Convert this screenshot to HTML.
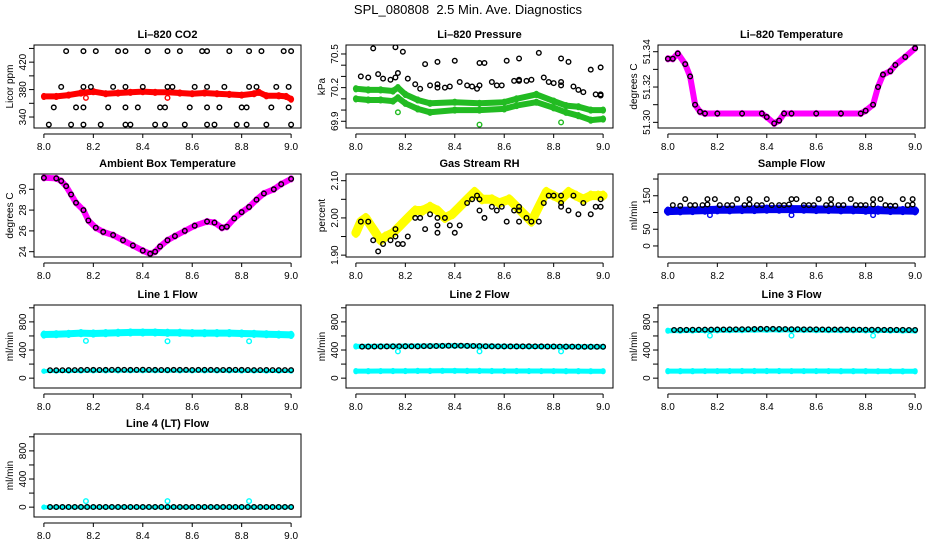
<!DOCTYPE html>
<html><head><meta charset="utf-8"><style>
html,body{margin:0;padding:0;background:#fff}
svg{display:block;font-family:"Liberation Sans",sans-serif}
</style></head><body>
<svg id="chart" width="936" height="540" viewBox="0 0 936 540" xmlns="http://www.w3.org/2000/svg">
<rect width="936" height="540" fill="#fff"/>
<text x="468" y="14" font-size="13" text-anchor="middle">SPL_080808&#160; 2.5 Min. Ave. Diagnostics</text>
</svg>
<script>
const xTicks=[8.0,8.2,8.4,8.6,8.8,9.0];
const xTickLabels=["8.0","8.2","8.4","8.6","8.8","9.0"];
const t21=[8.0,8.05,8.1,8.15,8.2,8.25,8.3,8.35,8.4,8.45,8.5,8.55,8.6,8.65,8.7,8.75,8.8,8.85,8.9,8.95,9.0];
const t40=[8.025,8.05,8.075,8.1,8.125,8.15,8.175,8.2,8.225,8.25,8.275,8.3,8.325,8.35,8.375,8.4,8.425,8.45,8.475,8.5,8.525,8.55,8.575,8.6,8.625,8.65,8.675,8.7,8.725,8.75,8.775,8.8,8.825,8.85,8.875,8.9,8.925,8.95,8.975,9.0];

// CO2
const co2X=[8.0,8.05,8.1,8.15,8.2,8.25,8.3,8.35,8.4,8.45,8.5,8.55,8.6,8.65,8.7,8.75,8.8,8.85,8.87,8.9,8.95,8.98,9.0];
const co2Y=[370,370,372,375,377,374,375,376,377,376,376,375,374,375,374,373,372,374,376,371,371,370,366];
const co2BlkX=[8.09,8.16,8.21,8.30,8.33,8.42,8.50,8.55,8.64,8.66,8.75,8.83,8.88,8.97,9.0,8.07,8.16,8.19,8.28,8.33,8.40,8.50,8.52,8.61,8.66,8.73,8.83,8.86,8.94,8.99,8.04,8.13,8.16,8.26,8.33,8.38,8.47,8.49,8.59,8.66,8.71,8.80,8.82,8.92,8.99,8.02,8.11,8.16,8.23,8.33,8.35,8.45,8.49,8.57,8.66,8.69,8.78,8.82,8.90,9.0];
const co2BlkY=[436,436,436,436,436,436,436,436,436,436,436,436,436,436,436,384,384,384,384,384,384,384,384,384,384,384,384,384,384,384,354,354,354,354,354,354,354,354,354,354,354,354,354,354,354,329,329,329,329,329,329,329,329,329,329,329,329,329,329,329];
const co2OutX=[8.17,8.50];
const co2OutY=[368,368];

// Pressure
const prX=[8.0,8.05,8.1,8.15,8.17,8.2,8.25,8.3,8.4,8.5,8.6,8.65,8.73,8.8,8.85,8.9,8.95,9.0];
const prHi=[70.19,70.18,70.18,70.17,70.20,70.14,70.09,70.06,70.07,70.06,70.07,70.10,70.14,70.08,70.04,70.03,70.00,70.00];
const prLo=[70.10,70.09,70.09,70.08,70.11,70.06,70.01,69.98,70.00,70.00,70.01,70.04,70.07,70.02,69.98,69.95,69.91,69.92];
const prBlkX=[8.07,8.16,8.19,8.28,8.33,8.40,8.50,8.52,8.61,8.66,8.74,8.83,8.86,8.95,8.99,8.02,8.05,8.09,8.11,8.14,8.16,8.17,8.21,8.24,8.26,8.30,8.33,8.33,8.36,8.38,8.42,8.45,8.47,8.49,8.50,8.55,8.57,8.59,8.64,8.66,8.66,8.69,8.71,8.76,8.78,8.80,8.83,8.83,8.88,8.90,8.92,8.97,8.99,8.99];
const prBlkY=[70.55,70.56,70.52,70.41,70.43,70.44,70.42,70.42,70.44,70.46,70.51,70.46,70.43,70.36,70.38,70.30,70.29,70.32,70.28,70.27,70.29,70.33,70.28,70.23,70.19,70.22,70.23,70.20,70.20,70.21,70.25,70.22,70.21,70.19,70.22,70.25,70.22,70.22,70.26,70.27,70.26,70.26,70.27,70.29,70.25,70.24,70.25,70.22,70.21,70.18,70.16,70.14,70.14,70.13];
const prOutX=[8.17,8.50,8.83];
const prOutY=[69.98,69.87,69.89];

// Li-820 temperature
const tpX=[8.0,8.02,8.04,8.07,8.09,8.11,8.13,8.15,8.2,8.3,8.38,8.40,8.43,8.45,8.47,8.5,8.6,8.7,8.78,8.80,8.83,8.85,8.87,8.90,8.92,8.96,9.0];
const tpY=[51.336,51.336,51.339,51.333,51.326,51.310,51.306,51.305,51.305,51.305,51.305,51.303,51.2994,51.301,51.305,51.305,51.305,51.305,51.305,51.3066,51.310,51.320,51.327,51.329,51.3325,51.337,51.342];

// Ambient box temperature
const abX=[8.0,8.05,8.07,8.09,8.11,8.13,8.16,8.18,8.21,8.24,8.28,8.32,8.36,8.40,8.43,8.45,8.47,8.50,8.53,8.57,8.61,8.66,8.69,8.72,8.74,8.77,8.80,8.83,8.86,8.89,8.93,8.96,9.0];
const abY=[31.1,31.05,30.8,30.3,29.5,28.7,28.0,27.0,26.3,25.9,25.6,25.1,24.6,24.1,23.8,24.0,24.5,25.1,25.5,26.0,26.5,26.9,26.8,26.3,26.4,27.2,27.8,28.3,29.0,29.6,30.0,30.5,31.0];

// Gas stream RH
const rhX=[8.0,8.02,8.04,8.06,8.08,8.10,8.12,8.15,8.18,8.21,8.24,8.27,8.30,8.33,8.36,8.39,8.42,8.45,8.48,8.51,8.55,8.58,8.62,8.65,8.68,8.71,8.74,8.77,8.80,8.83,8.86,8.89,8.92,8.95,8.98,9.0];
const rhY=[1.96,1.99,2.00,1.98,1.96,1.94,1.95,1.96,1.98,2.00,2.02,2.02,2.03,2.02,2.00,2.01,2.03,2.05,2.07,2.05,2.05,2.04,2.05,2.03,2.01,1.99,2.03,2.07,2.06,2.05,2.07,2.06,2.05,2.06,2.06,2.06];
const rhBlkX=[8.02,8.05,8.07,8.09,8.11,8.14,8.16,8.16,8.17,8.19,8.21,8.24,8.26,8.28,8.30,8.33,8.33,8.33,8.36,8.38,8.40,8.42,8.45,8.47,8.49,8.50,8.50,8.52,8.55,8.57,8.59,8.61,8.64,8.66,8.66,8.66,8.69,8.71,8.74,8.76,8.78,8.80,8.83,8.83,8.83,8.86,8.88,8.90,8.92,8.95,8.97,8.99,8.99];
const rhBlkY=[1.99,1.99,1.94,1.91,1.93,1.94,1.95,1.97,1.93,1.93,1.95,2.00,2.00,1.97,2.01,1.98,1.96,2.00,2.00,1.98,1.96,1.98,2.04,2.05,2.06,2.05,2.02,2.00,2.03,2.02,2.03,1.99,2.02,2.02,2.03,1.99,2.00,1.99,1.99,2.04,2.06,2.06,2.06,2.04,2.03,2.02,2.06,2.01,2.04,2.01,2.03,2.03,2.05];

// Sample flow
const sfY=[104,105,106,107,108,108,109,109,110,110,110,110,109,109,108,108,107,107,106,106,105];
const sfBlkX=[8.07,8.16,8.19,8.28,8.33,8.40,8.50,8.52,8.61,8.66,8.74,8.83,8.86,8.95,8.99,8.02,8.05,8.09,8.11,8.14,8.16,8.21,8.24,8.26,8.31,8.33,8.36,8.38,8.42,8.45,8.47,8.49,8.55,8.57,8.59,8.64,8.66,8.69,8.71,8.76,8.78,8.80,8.83,8.88,8.90,8.92,8.97,8.99];
const sfBlkY=[140,140,140,140,140,140,140,140,140,140,140,140,140,140,140,122,120,122,122,122,124,122,122,122,122,124,122,122,122,122,122,124,122,122,122,122,124,122,122,122,122,122,124,122,120,120,122,124];
const sfOutX=[8.17,8.50,8.83];
const sfOutY=[92,92,92];

// Line flows
const l1Hi=[620,625,630,640,635,640,645,650,650,650,645,645,640,640,640,640,635,630,625,620,615];
const l1Lo=[100,101,102,103,104,105,105,106,106,106,106,105,105,105,104,104,103,103,102,102,101];
const l1Blk=[112,113,113,114,115,116,118,117,116,117,118,119,118,117,118,119,118,117,116,116,117,118,117,116,117,118,117,116,116,117,118,117,116,115,115,116,115,114,114,115];
const l2Hi=[452,452,453,454,455,456,457,458,460,458,455,453,452,451,450,450,449,448,447,446,446];
const l2Lo=[100,100,101,102,102,103,103,104,104,103,103,102,102,102,101,101,101,100,100,99,99];
const l2Blk=[448,449,450,450,451,452,453,454,453,452,455,456,457,458,460,461,460,459,457,455,454,453,452,452,451,451,452,453,452,451,450,450,449,448,448,447,447,446,446,446];
const l3Hi=[675,676,677,678,680,682,683,685,686,686,685,684,683,682,681,680,679,678,677,676,675];
const l3Lo=[100,100,100,101,101,101,102,102,102,102,101,101,101,101,100,100,100,99,99,98,98];
const l3Blk=[685,686,687,688,689,690,690,691,692,693,694,695,696,698,700,701,700,699,697,696,695,694,693,693,692,692,691,691,690,690,689,689,688,688,687,687,686,686,685,685];
const l4Hi=[0,0,0,0,0,0,0,0,0,0,0,0,0,0,0,0,0,0,0,0,0];
const l4Blk=[2,2,2,2,2,2,2,2,2,2,2,2,2,2,2,2,2,2,2,2,2,2,2,2,2,2,2,2,2,2,2,2,2,2,2,2,2,2,2,2];
const flowOutX=[8.17,8.50,8.83];
const l1OutY=[530,525,525];
const l2OutY=[380,380,380];
const l3OutY=[605,605,605];
const l4OutY=[86,86,86];

const NS="http://www.w3.org/2000/svg";
const svg=document.getElementById('chart');
function el(tag,attrs,parent){const e=document.createElementNS(NS,tag);for(const k in attrs)e.setAttribute(k,attrs[k]);(parent||svg).appendChild(e);return e;}

function panel(o){
  const g=el('g',{});
  
  
  const bx=o.bx,by=o.by,bw=267,bh=83;
  const sx=v=>bx+(v-7.96)/(9.04-7.96)*bw;
  const sy=v=>by+bh-(v-o.y0)/(o.y1-o.y0)*bh;
  const clip='c'+o.name;
  const cp=el('clipPath',{id:clip},g);el('rect',{x:bx,y:by,width:bw,height:bh},cp);
  const plot=el('g',{'clip-path':'url(#'+clip+')'},g);
  
  
  (o.bands||[]).forEach(b=>{
    const pts=b.x.map((x,i)=>sx(x).toFixed(1)+','+sy(b.y[i]).toFixed(1)).join(' ');
    const pl=el('polyline',{points:pts,fill:'none',stroke:b.c,'stroke-width':b.w,'stroke-linejoin':'round','stroke-linecap':'round'},plot);
    
    
    b.x.forEach((x,i)=>{el('circle',{cx:sx(x),cy:sy(b.y[i])-b.w/2+2,r:2,fill:'none',stroke:b.c,'stroke-width':1.2},plot);el('circle',{cx:sx(x),cy:sy(b.y[i])+b.w/2-2,r:2,fill:'none',stroke:b.c,'stroke-width':1.2},plot);});
  });
  (o.pts||[]).forEach(p=>{
    p.x.forEach((x,i)=>{
      const c=el('circle',{cx:sx(x),cy:sy(p.y[i]),r:2.3,fill:'none',stroke:p.c,'stroke-width':1.4},plot);
      
      
    });
  });
  const box=el('rect',{x:bx,y:by,width:bw,height:bh,fill:'none',stroke:'#000','stroke-width':1},g);
  
  
  const tt=el('text',{x:bx+bw/2,y:by-7,'font-size':11,'font-weight':'bold','text-anchor':'middle'},g);
  tt.textContent=o.title;
  
  
  const ay=by+bh+6;
  el('line',{x1:sx(8),x2:sx(9),y1:ay,y2:ay,stroke:'#000'},g);
  xTicks.forEach((v,i)=>{el('line',{x1:sx(v),x2:sx(v),y1:ay,y2:ay+4,stroke:'#000'},g);
    const tl=el('text',{x:sx(v),y:ay+16,'font-size':10,'text-anchor':'middle'},g);tl.textContent=xTickLabels[i];
    
    });
  el('line',{x1:bx,x2:bx,y1:sy(o.yt[0]),y2:sy(o.yt[o.yt.length-1]),stroke:'#000'},g);
  o.yt.forEach((v,i)=>{const y=sy(v);el('line',{x1:bx-5,x2:bx,y1:y,y2:y,stroke:'#000'},g);
    if(o.yl[i]){const tl=el('text',{x:0,y:0,'font-size':10,'text-anchor':'middle',transform:`translate(${bx-8},${y}) rotate(-90)`},g);tl.textContent=o.yl[i];
    
    }});
  const yt=el('text',{x:0,y:0,'font-size':10,'text-anchor':'middle',transform:`translate(${bx-21},${by+bh/2}) rotate(-90)`},g);
  yt.textContent=o.ytitle;
  
  
}
const C=[34,346,658],R=[45,174,305,434];
panel({name:'co2-panel',title:'Li\u2013820 CO2',bx:C[0],by:R[0],y0:324,y1:445,yt:[340,360,380,400,420,440],yl:['340','','380','','420',''],ytitle:'Licor ppm',
  bands:[{x:co2X,y:co2Y,c:'#f00',w:6}],pts:[{x:co2BlkX,y:co2BlkY,c:'#000'},{x:co2OutX,y:co2OutY,c:'#f00'}]});
panel({name:'pressure-panel',title:'Li\u2013820 Pressure',bx:C[1],by:R[0],y0:69.84,y1:70.58,yt:[69.9,70.0,70.1,70.2,70.3,70.4,70.5],yl:['69.9','','','70.2','','','70.5'],ytitle:'kPa',
  bands:[{x:prX,y:prHi,c:'#22bb22',w:6},{x:prX,y:prLo,c:'#22bb22',w:6}],pts:[{x:prBlkX,y:prBlkY,c:'#000'},{x:prOutX,y:prOutY,c:'#22bb22'}]});
panel({name:'li820-temp-panel',title:'Li\u2013820 Temperature',bx:C[2],by:R[0],y0:51.2968,y1:51.3438,yt:[51.30,51.31,51.32,51.33,51.34],yl:['51.30','','51.32','','51.34'],ytitle:'degrees C',
  bands:[{x:tpX,y:tpY,c:'#f0f',w:6}],pts:[{x:tpX,y:tpY,c:'#000'}]});
panel({name:'ambient-temp-panel',title:'Ambient Box Temperature',bx:C[0],by:R[1],y0:23.49,y1:31.47,yt:[24,26,28,30],yl:['24','26','28','30'],ytitle:'degrees C',
  bands:[{x:abX,y:abY,c:'#f0f',w:6}],pts:[{x:abX,y:abY,c:'#000'}]});
panel({name:'rh-panel',title:'Gas Stream RH',bx:C[1],by:R[1],y0:1.895,y1:2.118,yt:[1.90,1.95,2.00,2.05,2.10],yl:['1.90','','2.00','','2.10'],ytitle:'percent',
  bands:[{x:rhX,y:rhY,c:'#ffff00',w:9}],pts:[{x:rhBlkX,y:rhBlkY,c:'#000'}]});
panel({name:'sample-flow-panel',title:'Sample Flow',bx:C[2],by:R[1],y0:-33,y1:215,yt:[0,50,100,150,200],yl:['0','50','','150',''],ytitle:'ml/min',
  bands:[{x:t21,y:sfY,c:'#0000ee',w:8}],pts:[{x:sfBlkX,y:sfBlkY,c:'#000'},{x:sfOutX,y:sfOutY,c:'#0000ee'}]});
const fyt=[0,200,400,600,800,1000],fyl=['0','','400','','800',''];
panel({name:'line1-flow-panel',title:'Line 1 Flow',bx:C[0],by:R[2],y0:-140,y1:1040,yt:fyt,yl:fyl,ytitle:'ml/min',
  bands:[{x:t21,y:l1Hi,c:'#00ffff',w:7},{x:t21,y:l1Lo,c:'#00ffff',w:4}],pts:[{x:t40,y:l1Blk,c:'#000'},{x:flowOutX,y:l1OutY,c:'#00ffff'}]});
panel({name:'line2-flow-panel',title:'Line 2 Flow',bx:C[1],by:R[2],y0:-140,y1:1040,yt:fyt,yl:fyl,ytitle:'ml/min',
  bands:[{x:t21,y:l2Hi,c:'#00ffff',w:5},{x:t21,y:l2Lo,c:'#00ffff',w:5}],pts:[{x:t40,y:l2Blk,c:'#000'},{x:flowOutX,y:l2OutY,c:'#00ffff'}]});
panel({name:'line3-flow-panel',title:'Line 3 Flow',bx:C[2],by:R[2],y0:-140,y1:1040,yt:fyt,yl:fyl,ytitle:'ml/min',
  bands:[{x:t21,y:l3Hi,c:'#00ffff',w:5},{x:t21,y:l3Lo,c:'#00ffff',w:5}],pts:[{x:t40,y:l3Blk,c:'#000'},{x:flowOutX,y:l3OutY,c:'#00ffff'}]});
panel({name:'line4-flow-panel',title:'Line 4 (LT) Flow',bx:C[0],by:R[3],y0:-140,y1:1040,yt:fyt,yl:fyl,ytitle:'ml/min',
  bands:[{x:t21,y:l4Hi,c:'#00ffff',w:4}],pts:[{x:t40,y:l4Blk,c:'#000'},{x:flowOutX,y:l4OutY,c:'#00ffff'}]});
</script>
</body></html>
